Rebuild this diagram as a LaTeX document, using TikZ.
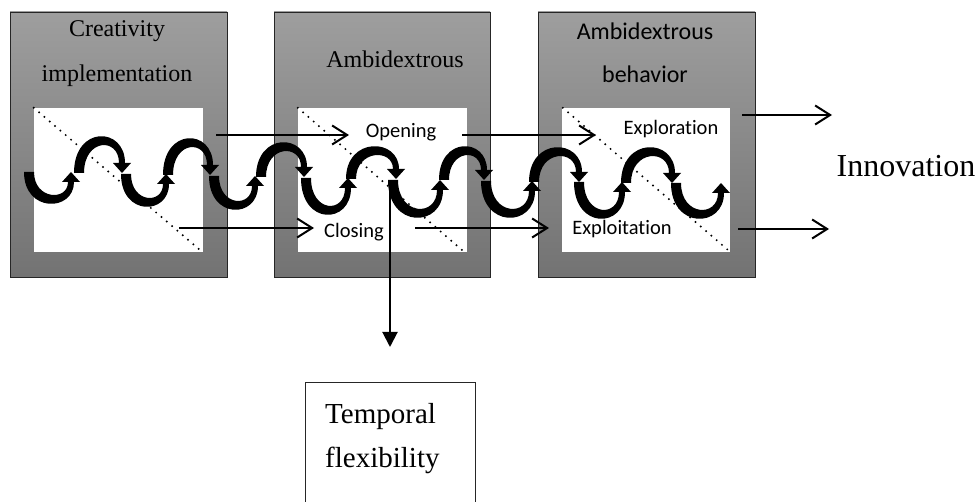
\documentclass[tikz,border=0pt]{standalone}
\usepackage{fontspec}
\setmainfont{Liberation Serif}
\newfontfamily\calib[Ligatures=NoCommon]{Carlito}
\usetikzlibrary{arrows.meta}
\tikzset{
  bigbox/.style={draw=black!85, line width=0.8pt, top color=black!38, bottom color=black!55,
    minimum width=217pt, minimum height=265pt, inner sep=0pt},
  innerbox/.style={fill=white, draw=none, inner sep=0pt, minimum width=169pt, minimum height=144pt},
  ttl/.style={font=\fontsize{24}{28}\selectfont, anchor=base, inner sep=0pt},
  cttl/.style={font=\calib\fontsize{24}{28}\selectfont, anchor=base, inner sep=0pt},
  lbl/.style={font=\calib\fontsize{20.5}{24}\selectfont, anchor=base, inner sep=0pt},
  diag/.style={line width=2.2pt, dash pattern=on 0pt off 7pt, line cap=round},
  flow/.style={line width=2pt, -{Straight Barb[length=15pt,width=19pt]}},
  down/.style={line width=2pt, -{Triangle[width=15pt,length=15pt]}},
}
\newcommand{\waveseg}[4]{% xs xe yj d
  \pgfmathsetmacro\sg{sign(#4)}%
  \fill[black] (#1-5,#3) .. controls (#1-5,#3+1.333*#4+6.7*\sg) and (#2+3,#3+1.333*#4+5.3*\sg) .. (#2+3,#3+10*\sg)
    -- (#2+9,#3+10*\sg) -- (#2,#3) -- (#2-9,#3+10*\sg) -- (#2-3,#3+10*\sg)
    .. controls (#2-3,#3+1.333*#4-5.3*\sg) and (#1+5,#3+1.333*#4-6.7*\sg) .. (#1+5,#3) -- cycle;}
\begin{document}
\begin{tikzpicture}[x=1pt,y=-1pt]
\useasboundingbox (0,0) rectangle (977,502);
% boxes
\node[bigbox] (b1) at (118.5,144.5) {};
\node[bigbox,minimum width=216pt] (b2) at (382,144.5) {};
\node[bigbox] (b3) at (646.5,144.5) {};
\node[innerbox] (i1) at (118.5,180) {};
\node[innerbox] (i2) at (382.5,180) {};
\node[innerbox,minimum width=168pt] (i3) at (646,180) {};
% diagonals
\draw[diag] (i1.north west) -- ([xshift=-3pt,yshift=2pt]i1.south east);
\draw[diag] (i2.north west) -- ([xshift=-5pt,yshift=2pt]i2.south east);
\draw[diag] ([xshift=1pt]i3.north west) -- ([xshift=-2pt,yshift=2pt]i3.south east);
% titles
\node[ttl] (t1a) at (117,37) {Creativity};
\node[ttl] (t1b) at (117,82) {implementation};
\node[ttl] (t2) at (395,68) {Ambidextrous};
\node[cttl] (t3a) at (645,40) {Ambidextrous};
\node[cttl] (t3b) at (645,83) {behavior};
% inner labels
\node[lbl] (op) at (401,138) {Opening};
\node[lbl] (cl) at (354,238) {Closing};
\node[lbl] (ex) at (671,135) {Exploration};
\node[lbl] (ei) at (622,235) {Exploitation};
\node[font=\fontsize{32}{36}\selectfont, anchor=base, inner sep=0pt] (inn) at (906,177) {Innovation};
% wave
\waveseg{29}{71}{172}{26}
\waveseg{79}{122}{173}{-31}
\waveseg{126}{166}{174}{27}
\waveseg{168}{210}{175}{-31}
\waveseg{214}{255}{176}{28}
\waveseg{261}{304}{177}{-29}
\waveseg{306}{348}{178}{31}
\waveseg{351}{396}{179}{-27}
\waveseg{393}{440}{180}{32}
\waveseg{444}{484}{180}{-28}
\waveseg{486}{532}{181}{31}
\waveseg{534}{579}{182}{-29}
\waveseg{579}{622}{182}{31}
\waveseg{626}{672}{183}{-30}
\waveseg{676}{721}{183}{30}
% arrow coordinates
\coordinate (a1s) at (216,135); \coordinate (a1e) at (349,135);
\coordinate (a2s) at (462,135); \coordinate (a2e) at (596,135);
\coordinate (a3s) at (742,115); \coordinate (a3e) at (832,115);
\coordinate (a4s) at (179,228); \coordinate (a4e) at (314,228);
\coordinate (a5s) at (415,228); \coordinate (a5e) at (549,228);
\coordinate (a6s) at (738,229); \coordinate (a6e) at (829,229);
\coordinate (vs) at (390,186); \coordinate (ve) at (390,347);
\draw[flow] (a1s) -- (a1e);
\draw[flow] (a2s) -- (a2e);
\draw[flow] (a3s) -- (a3e);
\draw[flow] (a4s) -- (a4e);
\draw[flow] (a5s) -- (a5e);
\draw[flow] (a6s) -- (a6e);
\draw[down] (vs) -- (ve);
% temporal flexibility
\node[draw=black!85, line width=0.8pt, minimum width=170pt, minimum height=126pt, inner sep=0pt, anchor=north] (tf) at (390,382) {};
\node[font=\fontsize{29}{34}\selectfont, anchor=base west, inner sep=0pt] (tf1) at (325,423) {Temporal};
\node[font=\fontsize{29}{34}\selectfont, anchor=base west, inner sep=0pt] (tf2) at (325,467) {flexibility};
\end{tikzpicture}
\end{document}
